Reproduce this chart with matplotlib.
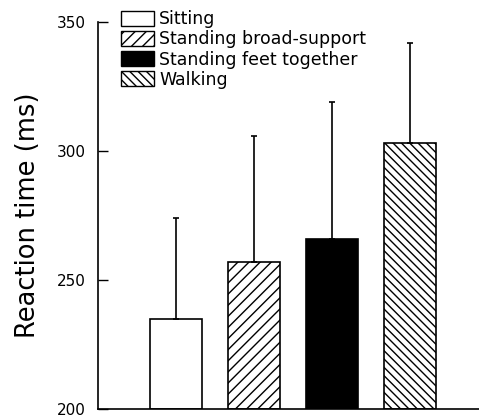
import matplotlib
matplotlib.use("Agg")
import matplotlib.pyplot as plt
from matplotlib.patches import Patch

conditions = ["Sitting", "Standing broad-support", "Standing feet together", "Walking"]
mean_rt = [235, 257, 266, 303]
sd_rt = [39, 49, 53, 39]
faces = ["white", "white", "black", "white"]
hatches = ["", "///", "", "\\\\\\\\"]

plt.rcParams["hatch.linewidth"] = 1.0
plt.rcParams["font.family"] = "DejaVu Sans"

fig = plt.figure(figsize=(4.79, 4.16), dpi=100)
ax = fig.add_axes([98 / 479, 7 / 416, 381 / 479, 387 / 416])

x = list(range(len(conditions)))
bars = ax.bar(x, [m - 200 for m in mean_rt], bottom=200, width=0.667,
              color=faces, edgecolor="black", linewidth=1.2, hatch=hatches)
ax.errorbar(x, mean_rt, yerr=[[0] * 4, sd_rt], fmt="none", ecolor="black",
            elinewidth=1.2, capsize=2.5, capthick=1.2)

ax.set_ylim(200, 350)
ax.set_xlim(-1, 3.885)
ax.set_yticks([200, 250, 300, 350])
ax.set_xticks([])
ax.tick_params(axis="y", direction="in", length=7, width=1, labelsize=11, pad=9)
ax.spines["top"].set_visible(False)
ax.spines["right"].set_visible(False)
ax.spines["left"].set_linewidth(1.2)
ax.spines["bottom"].set_linewidth(1.2)
ax.set_ylabel("Reaction time (ms)", fontsize=18.5, labelpad=11)

handles = [Patch(facecolor=f, edgecolor="black", hatch=h, linewidth=1.0)
           for f, h in zip(faces, hatches)]
ax.legend(handles, conditions, loc="upper left", bbox_to_anchor=(23 / 381, 1.03),
          frameon=False, fontsize=12.5, handlelength=1.9, handleheight=0.95,
          labelspacing=0.12, handletextpad=0.3, borderpad=0, borderaxespad=0)

fig.savefig("out.png", dpi=100)
